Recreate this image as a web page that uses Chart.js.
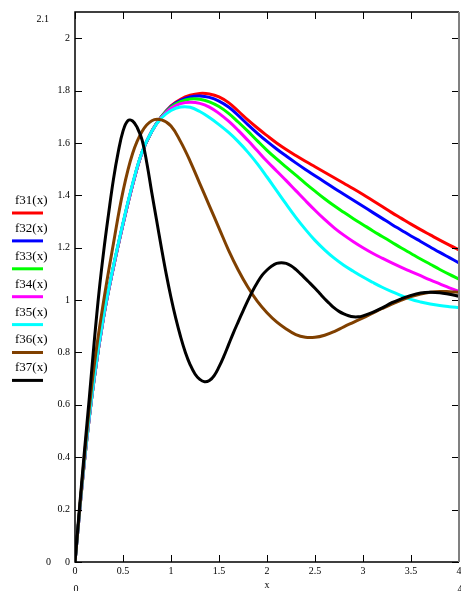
<!DOCTYPE html>
<html>
<head>
<meta charset="utf-8">
<script src="https://cdn.jsdelivr.net/npm/chart.js@4"></script>
<style>
  html, body { margin: 0; padding: 0; background: #fff; }
  #wrap { width: 461px; height: 591px; }
</style>
</head>
<body>
<div id="wrap"><canvas id="c" width="461" height="591"></canvas></div>
<script>
// ---------- data ----------
const xs = [0,0.1,0.2,0.3,0.4,0.5,0.6,0.7,0.8,0.9,1.0,1.1,1.2,1.3,1.4,1.5,1.6,1.7,1.8,1.9,2.0,
            2.1,2.2,2.3,2.4,2.5,2.6,2.7,2.8,2.9,3.0,3.1,3.2,3.3,3.4,3.5,3.6,3.7,3.8,3.9,4.0];

const f31 = [0,0.39,0.70,0.94,1.125,1.29,1.44,1.565,1.645,1.70,1.742,1.767,1.782,1.789,1.787,1.776,1.754,1.722,1.688,1.657,1.628,
             1.600,1.575,1.552,1.530,1.509,1.488,1.467,1.446,1.425,1.403,1.380,1.357,1.334,1.312,1.290,1.269,1.249,1.229,1.210,1.192];
const f32 = [0,0.39,0.70,0.94,1.125,1.29,1.44,1.565,1.645,1.70,1.740,1.763,1.776,1.779,1.774,1.760,1.737,1.705,1.670,1.637,1.606,
             1.577,1.550,1.524,1.499,1.475,1.451,1.427,1.404,1.381,1.358,1.335,1.312,1.289,1.267,1.245,1.224,1.203,1.182,1.162,1.142];
const f33 = [0,0.39,0.70,0.94,1.125,1.29,1.44,1.565,1.645,1.70,1.737,1.758,1.768,1.767,1.757,1.739,1.713,1.680,1.645,1.608,1.572,
             1.539,1.508,1.477,1.446,1.416,1.387,1.360,1.335,1.311,1.288,1.265,1.243,1.221,1.199,1.178,1.157,1.137,1.117,1.098,1.080];
const f34 = [0,0.39,0.70,0.94,1.125,1.29,1.44,1.565,1.645,1.698,1.733,1.750,1.755,1.751,1.737,1.713,1.683,1.648,1.610,1.570,1.530,
             1.493,1.456,1.418,1.380,1.343,1.308,1.276,1.248,1.223,1.200,1.179,1.160,1.142,1.125,1.109,1.093,1.077,1.062,1.047,1.033];
const f35 = [0,0.395,0.705,0.945,1.13,1.295,1.445,1.567,1.645,1.695,1.724,1.737,1.736,1.720,1.697,1.670,1.640,1.605,1.565,1.520,1.470,
             1.418,1.366,1.316,1.270,1.228,1.192,1.160,1.133,1.110,1.088,1.068,1.049,1.032,1.017,1.003,0.993,0.985,0.979,0.975,0.972];
const f36 = [0,0.41,0.75,1.00,1.215,1.415,1.56,1.645,1.685,1.688,1.665,1.605,1.530,1.445,1.360,1.275,1.190,1.115,1.050,0.995,0.952,
             0.917,0.890,0.868,0.858,0.858,0.866,0.880,0.898,0.915,0.932,0.950,0.968,0.985,1.000,1.013,1.023,1.030,1.033,1.032,1.030];

const xs37 = [0,0.05,0.1,0.15,0.2,0.25,0.3,0.35,0.4,0.45,0.5,0.55,0.6,0.65,0.7,0.75,0.8,0.85,0.9,0.95,1.0,
              1.05,1.1,1.15,1.2,1.25,1.3,1.35,1.4,1.45,1.5,1.55,1.6,1.65,1.7,1.75,1.8,1.85,1.9,1.95,2.0,
              2.05,2.1,2.15,2.2,2.25,2.3,2.35,2.4,2.45,2.5,2.55,2.6,2.65,2.7,2.75,2.8,2.85,2.9,2.95,3.0,
              3.1,3.2,3.3,3.4,3.5,3.6,3.7,3.8,3.9,4.0];
const f37 = [0,0.22,0.43,0.63,0.84,1.03,1.19,1.33,1.46,1.565,1.645,1.685,1.684,1.657,1.61,1.52,1.41,1.305,1.20,1.10,1.01,
             0.93,0.86,0.80,0.753,0.718,0.697,0.688,0.693,0.712,0.745,0.785,0.83,0.875,0.917,0.958,0.998,1.035,1.067,1.095,1.115,
             1.13,1.14,1.143,1.14,1.131,1.117,1.10,1.082,1.064,1.045,1.025,1.005,0.987,0.97,0.957,0.947,0.940,0.936,0.936,0.94,
             0.953,0.97,0.99,1.005,1.018,1.027,1.03,1.028,1.022,1.015];

const seriesNames = ['f31(x)','f32(x)','f33(x)','f34(x)','f35(x)','f36(x)','f37(x)'];
const seriesColors = ['#ff0000','#0000ff','#00ff00','#ff00ff','#00ffff','#804000','#000000'];

const xMin = 0, xMax = 4, xStep = 0.5;
const yMin = 0, yMax = 2.1, yStep = 0.2;
const axisTitle = 'x';
const yLimitLabels = ['2.1', '0'];
const xLimitLabels = ['0', '4'];

// ---------- build ----------
const seriesY = [f31, f32, f33, f34, f35, f36, f37];
const seriesX = [xs, xs, xs, xs, xs, xs, xs37];

const datasets = seriesY.map((ys, i) => ({
  label: seriesNames[i],
  data: ys.map((v, k) => ({ x: seriesX[i][k], y: v })),
  borderColor: seriesColors[i],
  backgroundColor: seriesColors[i],
  borderWidth: 3,
  pointRadius: 0,
  fill: false,
  tension: 0.4,
  order: seriesY.length - 1 - i
}));

const FONT = "'Liberation Serif', 'Times New Roman', serif";
const fmt = v => String(+(+v).toFixed(2));

const framePlugin = {
  id: 'frame',
  afterDraw(chart) {
    const { ctx, chartArea: a, scales } = chart;
    const x = scales.x, y = scales.y;
    ctx.save();
    const tl = 7;
    ctx.strokeStyle = '#000';
    ctx.lineWidth = 1;
    ctx.beginPath();
    y.ticks.forEach(t => {
      const py = Math.round(y.getPixelForValue(t.value)) + 0.5;
      ctx.moveTo(a.left, py); ctx.lineTo(a.left + tl, py);
      ctx.moveTo(a.right, py); ctx.lineTo(a.right - tl, py);
    });
    x.ticks.forEach(t => {
      const px = Math.round(x.getPixelForValue(t.value)) + 0.5;
      ctx.moveTo(px, a.bottom); ctx.lineTo(px, a.bottom - tl);
      ctx.moveTo(px, a.top); ctx.lineTo(px, a.top + tl);
    });
    ctx.stroke();
    ctx.lineWidth = 1.5;
    ctx.strokeStyle = '#000';
    ctx.beginPath();
    ctx.moveTo(a.right, a.top); ctx.lineTo(a.left, a.top);
    ctx.lineTo(a.left, a.bottom); ctx.lineTo(a.right, a.bottom);
    ctx.stroke();
    ctx.strokeStyle = '#808080';
    ctx.lineWidth = 2;
    ctx.beginPath();
    ctx.moveTo(a.right, a.top); ctx.lineTo(a.right, a.bottom);
    ctx.stroke();

    ctx.fillStyle = '#000';
    ctx.font = '10px ' + FONT;
    ctx.textAlign = 'right';
    ctx.textBaseline = 'middle';
    ctx.fillText(yLimitLabels[0], a.left - 26, a.top + 7);
    ctx.fillText(yLimitLabels[1], a.left - 24, a.bottom);
    ctx.textAlign = 'center';
    ctx.fillText(xLimitLabels[0], a.left + 1, a.bottom + 27);
    ctx.fillText(xLimitLabels[1], a.right + 1, a.bottom + 27);

    ctx.font = '13px ' + FONT;
    ctx.textAlign = 'left';
    ctx.textBaseline = 'middle';
    const lx = 12, ly0 = 200.5, dy = 27.9;
    seriesNames.forEach((n, i) => {
      const ty = ly0 + i * dy;
      ctx.fillStyle = '#000';
      ctx.fillText(n, lx + 3, ty);
      ctx.strokeStyle = seriesColors[i];
      ctx.lineWidth = 3;
      ctx.beginPath();
      ctx.moveTo(lx, ty + 12.5); ctx.lineTo(lx + 31, ty + 12.5);
      ctx.stroke();
    });
    ctx.restore();
  }
};

new Chart(document.getElementById('c'), {
  type: 'line',
  data: { datasets },
  options: {
    responsive: false,
    devicePixelRatio: 1,
    animation: false,
    layout: { padding: { left: 0, right: 2, top: 12, bottom: 0 } },
    plugins: { legend: { display: false }, tooltip: { enabled: false } },
    scales: {
      x: {
        type: 'linear',
        min: xMin, max: xMax,
        border: { display: false },
        grid: { display: false, drawTicks: false },
        ticks: { stepSize: xStep, color: '#000', font: { family: FONT, size: 10 }, padding: 3, maxRotation: 0, autoSkip: false, callback: fmt },
        title: { display: true, text: axisTitle, color: '#000', font: { family: FONT, size: 10 }, padding: { top: 1, bottom: 0 } },
        afterFit(s) { s.height = 29; s.paddingLeft = 0; s.paddingRight = 0; }
      },
      y: {
        type: 'linear',
        min: yMin, max: yMax,
        border: { display: false },
        grid: { display: false, drawTicks: false },
        ticks: { stepSize: yStep, includeBounds: false, color: '#000', font: { family: FONT, size: 10 }, padding: 5, callback: fmt },
        afterFit(s) { s.width = 75; s.paddingTop = 0; s.paddingBottom = 0; }
      }
    }
  },
  plugins: [framePlugin]
});
</script>
</body>
</html>
